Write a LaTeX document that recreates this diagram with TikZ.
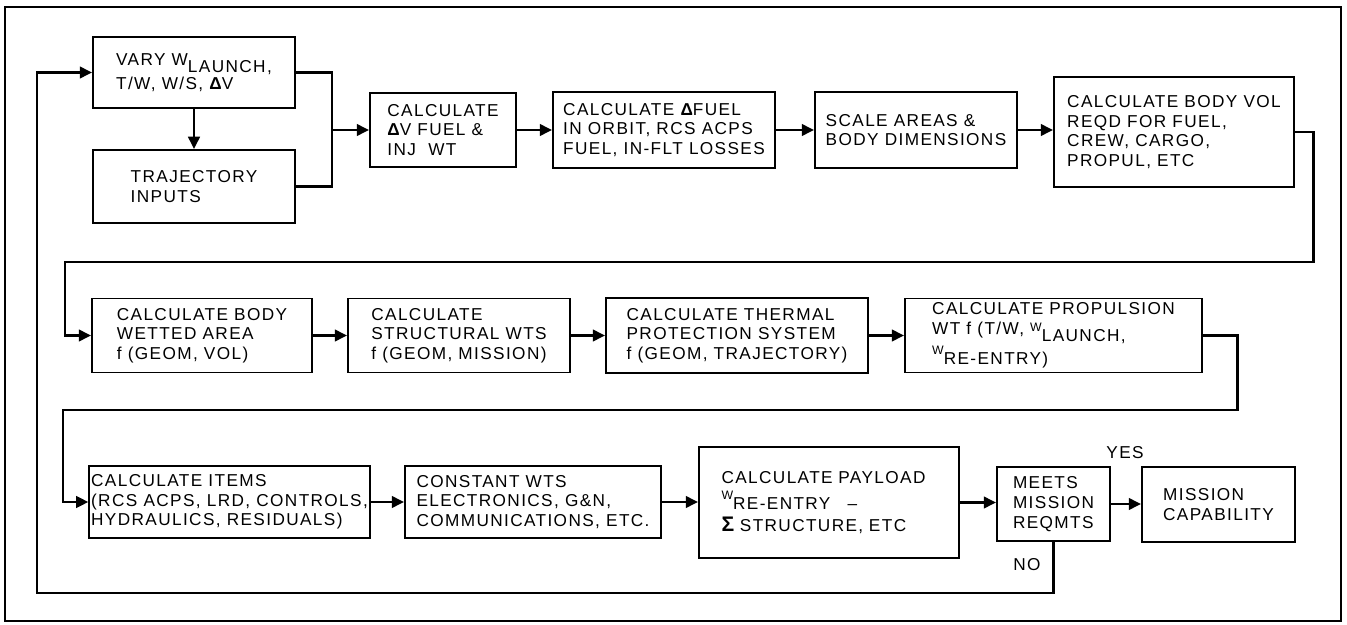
\documentclass[tikz,border=0pt]{standalone}
\usepackage{fontspec}
\usepackage{tikz}
\usetikzlibrary{arrows.meta,calc}
\newfontfamily\diagfont[LetterSpace=8]{Liberation Sans}
\newcommand{\lowtxt}[1]{\raisebox{-4pt}{#1}}
\newcommand{\upw}{\raisebox{2pt}{\fontsize{7}{8}\selectfont W}}

\tikzset{
  box/.style={draw, line width=1.1pt, align=left, inner sep=1pt,
    font=\diagfont\fontsize{9.8}{11.2}\selectfont},
  flow/.style={line width=1.7pt},
  arr/.style={flow, -{Triangle[length=7pt,width=6.5pt]}},
  tag/.style={font=\diagfont\fontsize{9.8}{11.2}\selectfont}
}

\begin{document}
\begin{tikzpicture}[x=0.02cm, y=-0.02cm]
  \useasboundingbox (0,0) rectangle (1347,625);
  \draw[line width=1.1pt] (5,7) rectangle (1341,621);

  \node[box, minimum width=4.04cm, minimum height=1.42cm] (vary) at (194,72.5)
    {VARY W\lowtxt{LAUNCH,}\\T/W, W/S, {\bfseries Δ}V};
  \node[box, minimum width=4.04cm, minimum height=1.46cm] (traj) at (194,186.5)
    {TRAJECTORY\\INPUTS};
  \node[box, minimum width=2.92cm, minimum height=1.48cm] (fuelinj) at (443,130)
    {CALCULATE\\{\bfseries Δ}V FUEL \&\\INJ\ \ WT};
  \node[box, minimum width=4.44cm, minimum height=1.52cm] (dfuel) at (664,130)
    {CALCULATE {\bfseries Δ}FUEL\\IN ORBIT, RCS ACPS\\FUEL, IN-FLT LOSSES};
  \node[box, minimum width=4.04cm, minimum height=1.52cm] (scale) at (916,130)
    {SCALE AREAS \&\\BODY DIMENSIONS};
  \node[box, minimum width=4.80cm, minimum height=2.20cm] (bodyvol) at (1174,132)
    {CALCULATE BODY VOL\\REQD FOR FUEL,\\CREW, CARGO,\\PROPUL, ETC};

  \node[box, minimum width=4.40cm, minimum height=1.48cm] (wetted) at (202,335.5)
    {CALCULATE BODY\\WETTED AREA\\f (GEOM, VOL)};
  \node[box, minimum width=4.44cm, minimum height=1.48cm] (structwt) at (459,335.5)
    {CALCULATE\\STRUCTURAL WTS\\f (GEOM, MISSION)};
  \node[box, minimum width=5.24cm, minimum height=1.50cm] (thermal) at (737,335.5)
    {CALCULATE THERMAL\\PROTECTION SYSTEM\\f (GEOM, TRAJECTORY)};
  \node[box, minimum width=5.94cm, minimum height=1.48cm] (propwt) at (1053.5,335.5)
    {CALCULATE PROPULSION\\WT f (T/W,\ \upw\lowtxt{LAUNCH,}\\\upw\lowtxt{RE-ENTRY)}};

  \node[box, minimum width=5.54cm, minimum height=1.44cm] (items) at (229.5,502)
    {CALCULATE ITEMS\\(RCS ACPS, LRD, CONTROLS,\\HYDRAULICS, RESIDUALS)};
  \node[box, minimum width=5.12cm, minimum height=1.44cm] (constwt) at (533,502)
    {CONSTANT WTS\\ELECTRONICS, G\&N,\\COMMUNICATIONS, ETC.};
  \node[box, text width=4.3cm, inner xsep=0.45cm, minimum height=2.22cm] (payload) at (829,502.5)
    {CALCULATE PAYLOAD\\\upw\lowtxt{RE-ENTRY\ \ \ –}\\[3pt]{\bfseries\large Σ} STRUCTURE, ETC};
  \node[box, minimum width=2.26cm, minimum height=1.48cm] (meets) at (1053.5,504)
    {MEETS\\MISSION\\REQMTS};
  \node[box, minimum width=3.06cm, minimum height=1.50cm] (capab) at (1218.5,504.5)
    {MISSION\\CAPABILITY};

  \node[tag] (yes) at (1125,453) {YES};
  \node[tag] (no) at (1027,565) {NO};

  \coordinate (merge) at (332,130);
  \coordinate (turn1r) at (1313,262);
  \coordinate (turn1l) at (65,262);
  \coordinate (turn2r) at (1237,410);
  \coordinate (turn2l) at (63,410);
  \coordinate (loopl) at (37,593);

  \draw[arr] (vary) -- (traj);
  \draw[flow] (vary.east) -| (merge) |- (traj.east);
  \draw[arr] (merge) -- (fuelinj.west);
  \draw[arr] (fuelinj) -- (dfuel);
  \draw[arr] (dfuel) -- (scale);
  \draw[arr] (scale.east) -- (scale.east -| bodyvol.west);
  \draw[arr] (bodyvol.east) -| (turn1r) -- (turn1l) |- (wetted.west);

  \draw[arr] (wetted) -- (structwt);
  \draw[arr] (structwt) -- (thermal);
  \draw[arr] (thermal) -- (propwt);
  \draw[arr] (propwt.east) -| (turn2r) -- (turn2l) |- (items.west);

  \draw[arr] (items) -- (constwt);
  \draw[arr] (constwt.east) -- (constwt.east -| payload.west);
  \draw[arr] (payload.east) -- (payload.east -| meets.west);
  \draw[arr] (meets.east) -- (meets.east -| capab.west);
  \draw[arr] (meets.south) |- (loopl) |- (vary.west);
\end{tikzpicture}
\end{document}
